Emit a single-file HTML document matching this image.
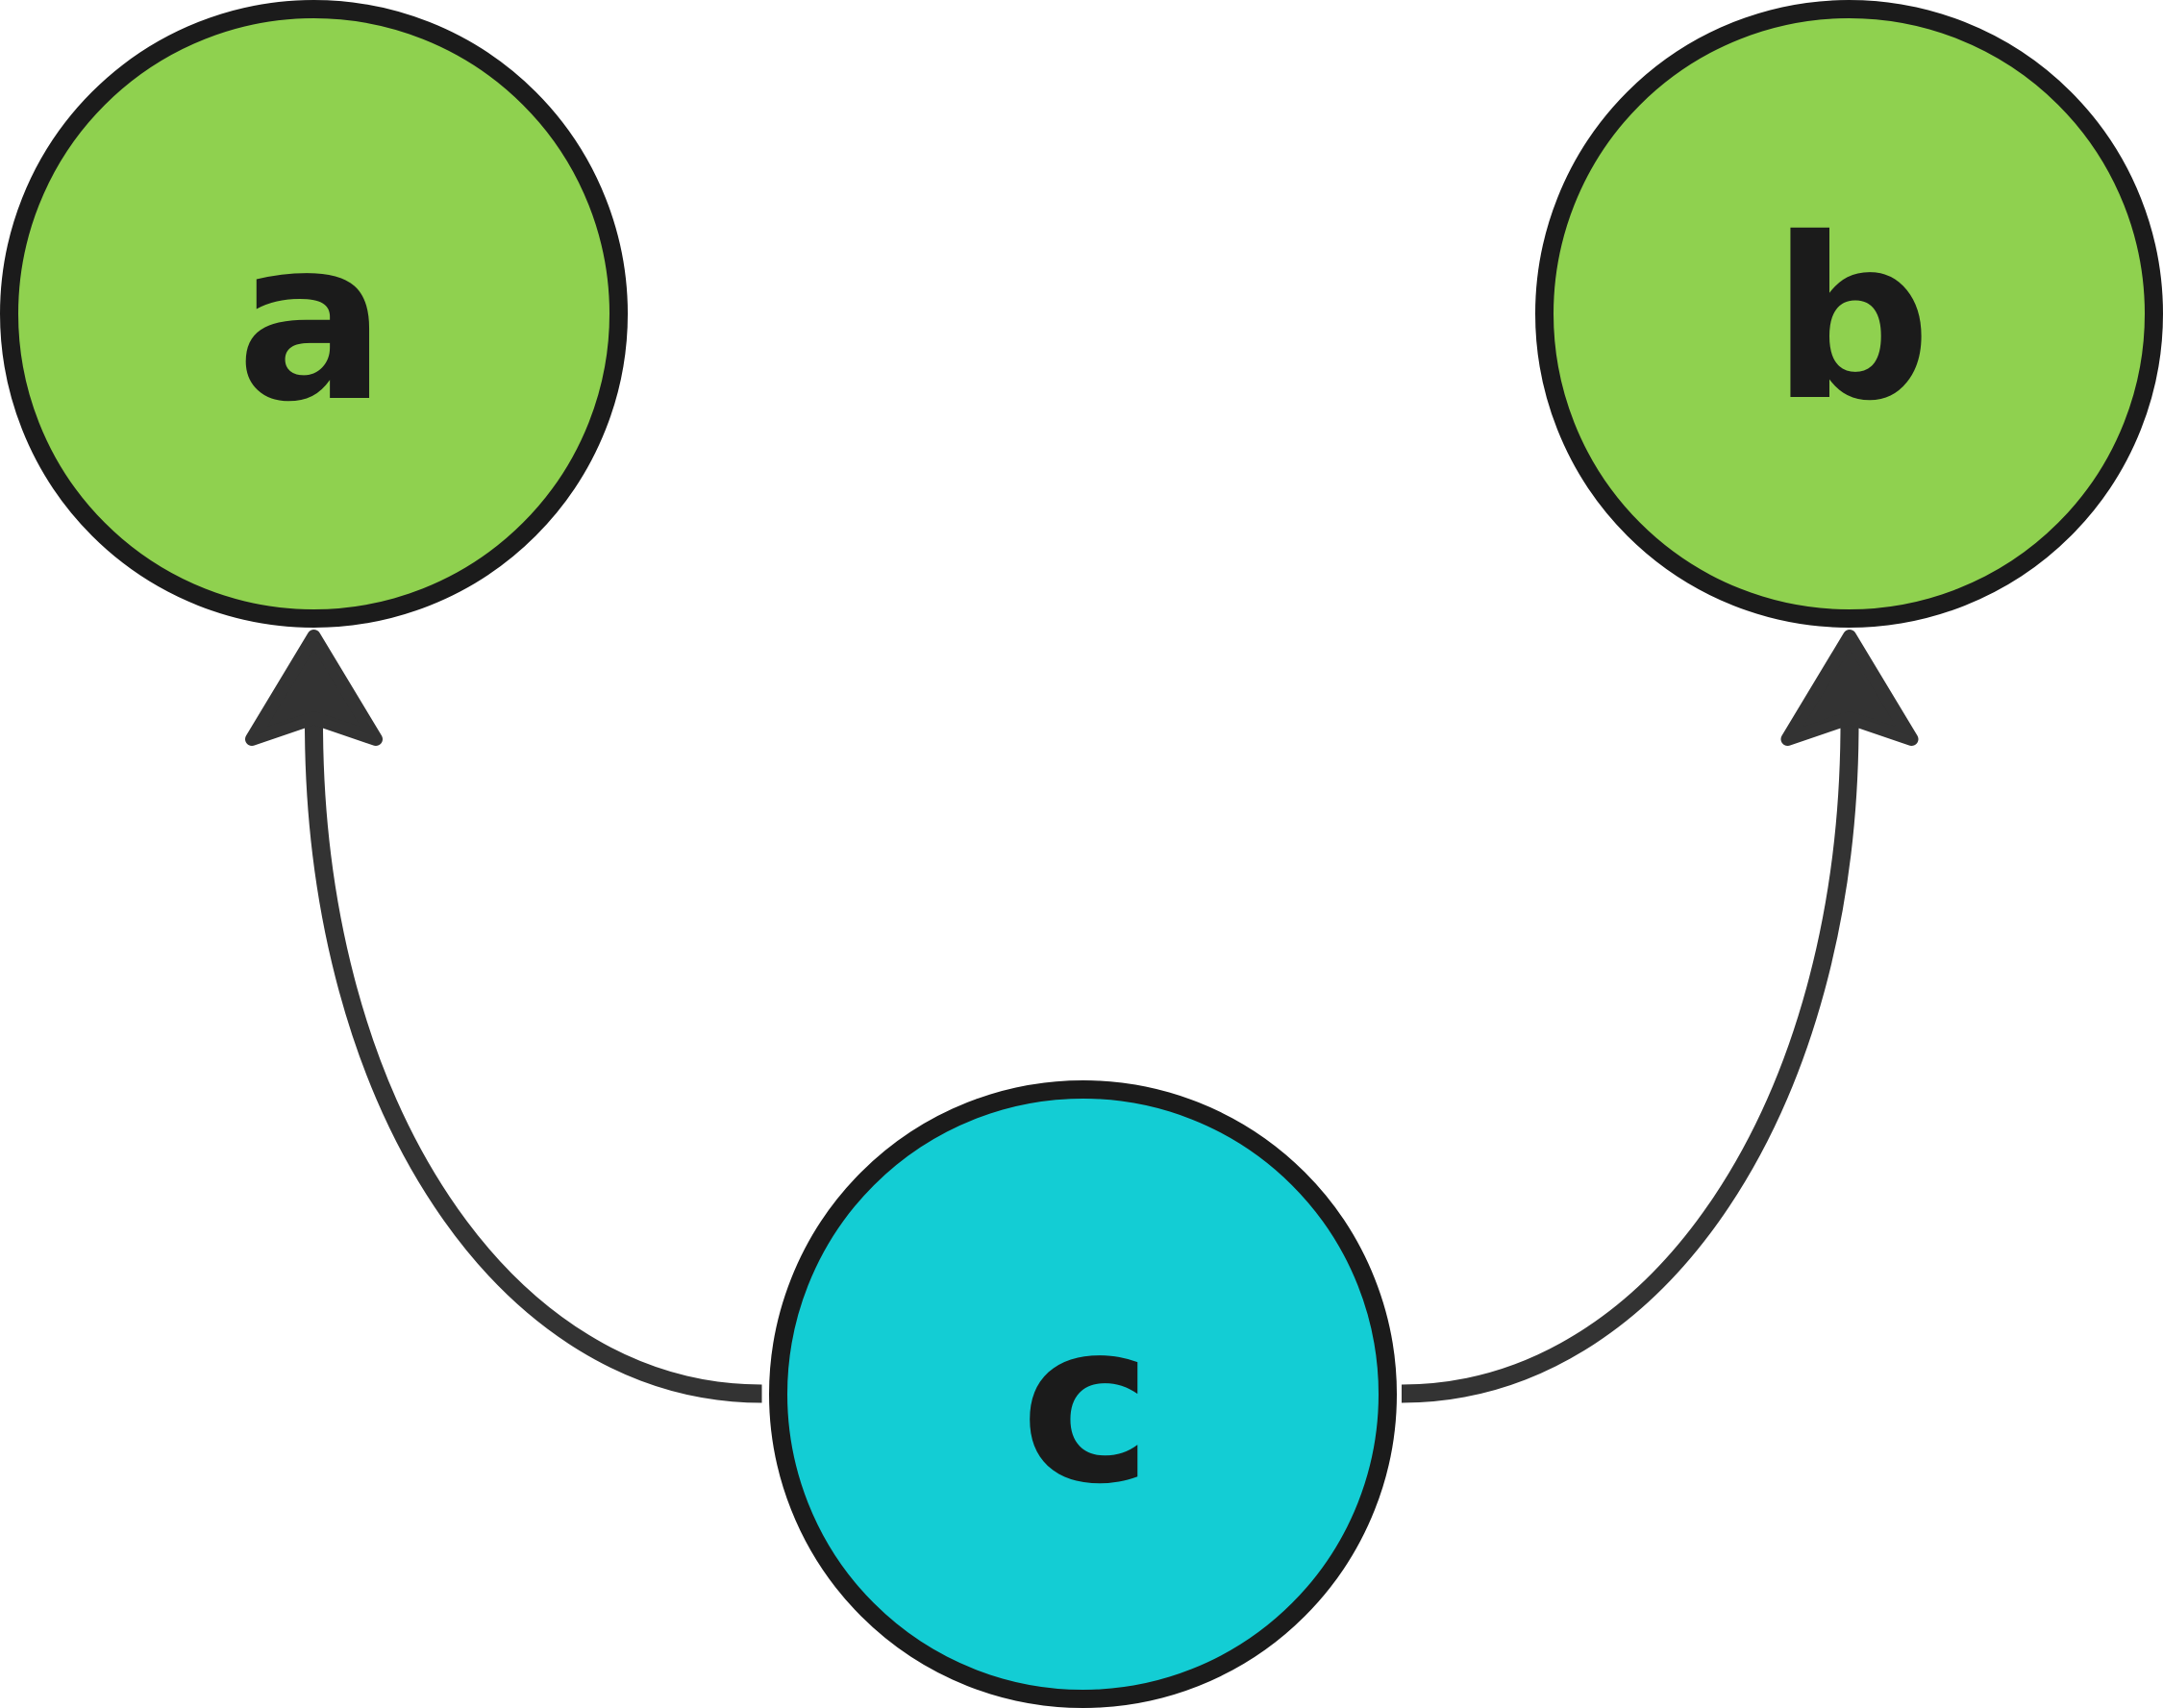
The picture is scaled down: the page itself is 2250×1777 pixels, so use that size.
<!DOCTYPE html>
<html>
<head>
<meta charset="utf-8">
<style>
html,body{margin:0;padding:0;background:#ffffff;}
body{width:2250px;height:1777px;overflow:hidden;}
svg{display:block;}
</style>
</head>
<body>
<svg width="2250" height="1777" viewBox="0 0 2250 1777" xmlns="http://www.w3.org/2000/svg">
  <rect x="0" y="0" width="2250" height="1777" fill="#ffffff"/>
  <!-- connectors -->
  <path d="M 792.5 1450 C 526.5 1450, 326.5 1150, 326.5 752" fill="none" stroke="#333333" stroke-width="19"/>
  <path d="M 1458 1450 C 1724 1450, 1924 1150, 1924 752" fill="none" stroke="#333333" stroke-width="19"/>
  <!-- arrowheads -->
  <polygon points="326.5,662 262,769 326.5,747 391,769" fill="#333333" stroke="#333333" stroke-width="14" stroke-linejoin="round"/>
  <polygon points="1924,662 1859.5,769 1924,747 1988.5,769" fill="#333333" stroke="#333333" stroke-width="14" stroke-linejoin="round"/>
  <!-- nodes -->
  <circle cx="326.5" cy="326.5" r="317" fill="#8fd14f" stroke="#1b1b1b" stroke-width="19"/>
  <circle cx="1923.5" cy="326.5" r="317" fill="#8fd14f" stroke="#1b1b1b" stroke-width="19"/>
  <circle cx="1126.5" cy="1450.5" r="317" fill="#13cdd4" stroke="#1b1b1b" stroke-width="19"/>
  <!-- labels -->
  <text x="324" y="414" text-anchor="middle" font-family="'DejaVu Sans', 'Liberation Sans', sans-serif" font-weight="bold" font-size="232" fill="#1b1b1b">a</text>
  <text x="1926" y="413" text-anchor="middle" font-family="'DejaVu Sans', 'Liberation Sans', sans-serif" font-weight="bold" font-size="232" fill="#1b1b1b">b</text>
  <text x="1130" y="1540" text-anchor="middle" font-family="'DejaVu Sans', 'Liberation Sans', sans-serif" font-weight="bold" font-size="232" fill="#1b1b1b">c</text>
</svg>
</body>
</html>
